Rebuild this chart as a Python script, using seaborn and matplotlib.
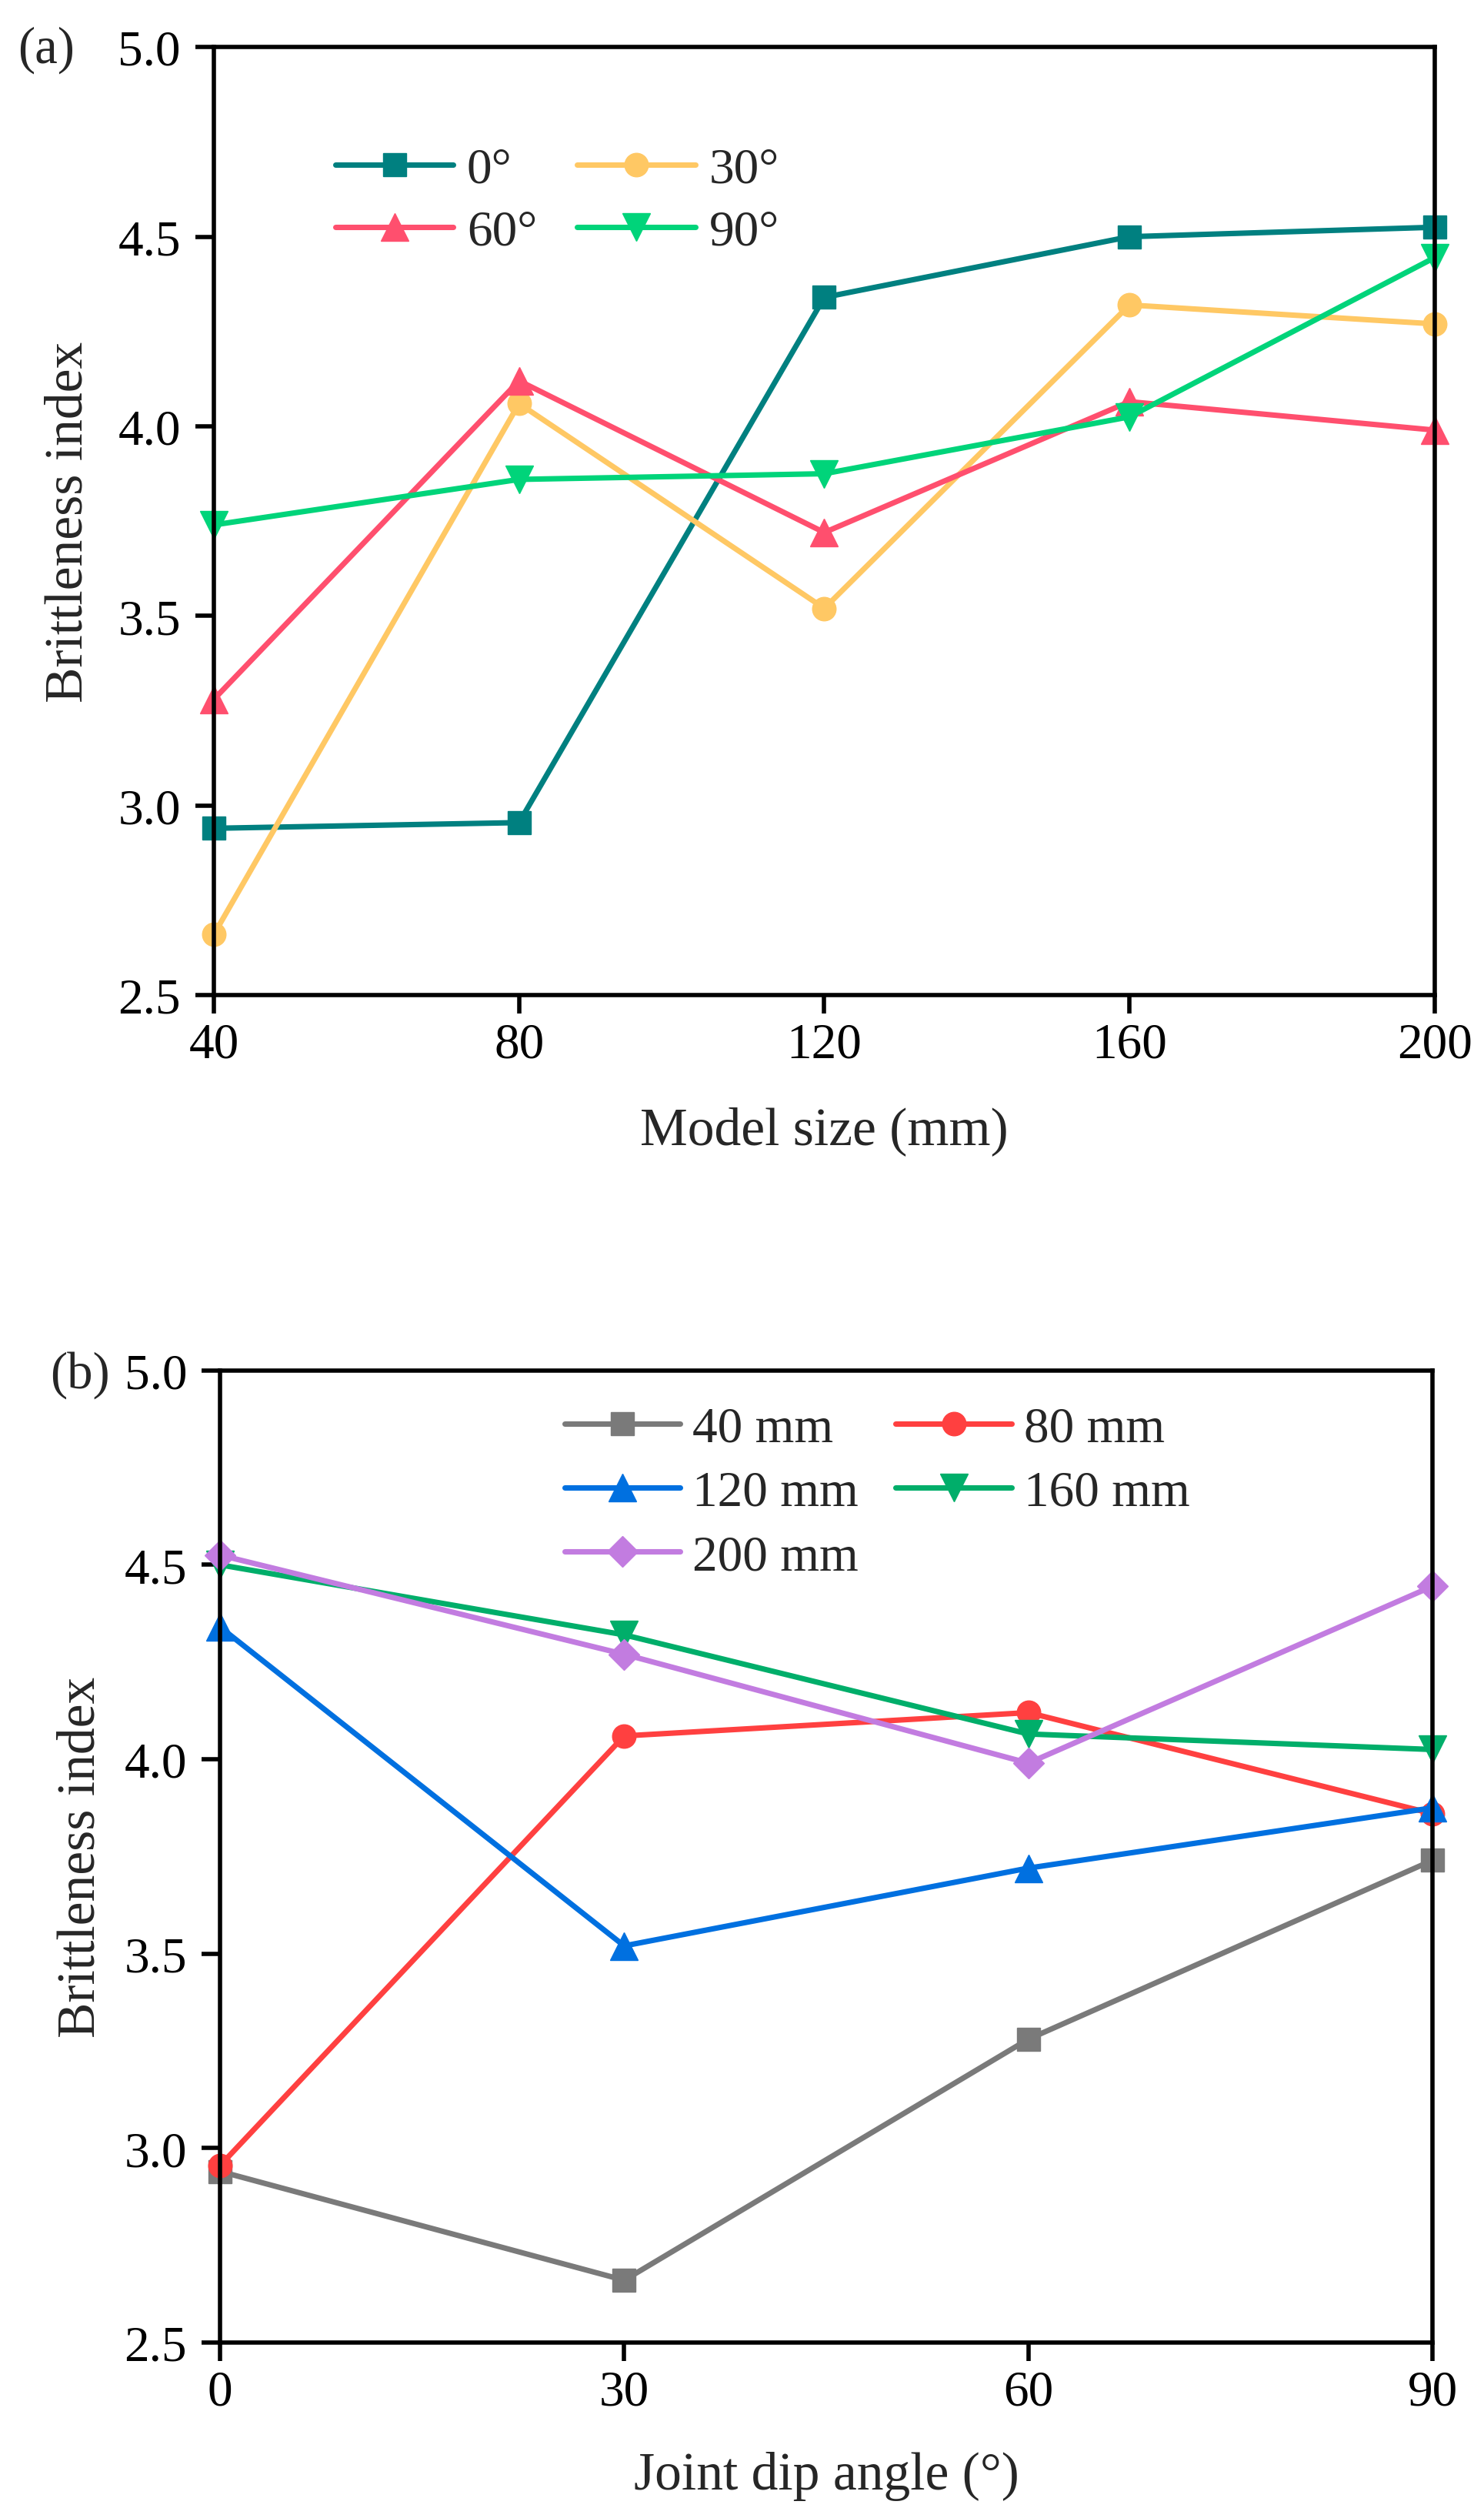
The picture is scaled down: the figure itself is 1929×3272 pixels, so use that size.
import matplotlib
matplotlib.use("Agg")
import matplotlib.pyplot as plt
import seaborn as sns

# model sizes (mm) and joint dip angles (deg)
model_sizes = [40, 80, 120, 160, 200]
dip_angles = [0, 30, 60, 90]

# brittleness index for each dip angle, over model size
bi_0 = [2.94, 2.955, 4.34, 4.50, 4.525]
bi_30 = [2.66, 4.06, 3.52, 4.32, 4.27]
bi_60 = [3.28, 4.12, 3.72, 4.065, 3.99]
bi_90 = [3.74, 3.86, 3.875, 4.025, 4.445]

angle_labels = ["0°", "30°", "60°", "90°"]
size_labels = ["40 mm", "80 mm", "120 mm", "160 mm", "200 mm"]

sns.set_theme(style="ticks")
plt.rcParams["font.family"] = ["Liberation Serif", "DejaVu Serif"]
plt.rcParams["axes.linewidth"] = 4
plt.rcParams["xtick.major.width"] = 4
plt.rcParams["ytick.major.width"] = 4
plt.rcParams["xtick.major.size"] = 17
plt.rcParams["ytick.major.size"] = 17
plt.rcParams["xtick.major.pad"] = 8
plt.rcParams["ytick.major.pad"] = 14
plt.rcParams["xtick.labelsize"] = 47
plt.rcParams["ytick.labelsize"] = 47
plt.rcParams["axes.edgecolor"] = "black"
plt.rcParams["xtick.color"] = "black"
plt.rcParams["ytick.color"] = "black"

fig = plt.figure(figsize=(19.29, 32.73), dpi=100)
ax_a = fig.add_axes([0.1441, 0.6046, 0.8227, 0.3764])
ax_b = fig.add_axes([0.1483, 0.0697, 0.8170, 0.3859])

# panel (a): brittleness vs model size
series_a = [bi_0, bi_30, bi_60, bi_90]
colors_a = ["#008080", "#FFC864", "#FF4F6E", "#00D47A"]
markers_a = ["s", "o", "^", "v"]
msizes_a = [21, 22, 26, 26]
for vals, lab, c, m, ms in zip(series_a, angle_labels, colors_a, markers_a, msizes_a):
    sns.lineplot(x=model_sizes, y=vals, ax=ax_a, color=c, marker=m, markersize=ms,
                 markeredgecolor=c, markeredgewidth=1, linewidth=5.1, label=lab,
                 clip_on=False)

# panel (b): brittleness vs joint dip angle (same data, transposed)
series_b = [[s[i] for s in series_a] for i in range(len(model_sizes))]
colors_b = ["#7A7A7A", "#FF4040", "#0070E0", "#00AE6A", "#C27CE0"]
markers_b = ["s", "o", "^", "v", "D"]
msizes_b = [21, 22, 26, 26, 20]
for vals, lab, c, m, ms in zip(series_b, size_labels, colors_b, markers_b, msizes_b):
    sns.lineplot(x=dip_angles, y=vals, ax=ax_b, color=c, marker=m, markersize=ms,
                 markeredgecolor=c, markeredgewidth=1, linewidth=5.1, label=lab,
                 clip_on=False)

for ax in (ax_a, ax_b):
    ax.set_ylim(2.5, 5.0)
    ax.set_yticks([2.5, 3.0, 3.5, 4.0, 4.5, 5.0])
    for sp in ax.spines.values():
        sp.set_visible(True)
        sp.set_linewidth(4)
        sp.set_color("black")

ax_a.set_ylabel("Brittleness index", fontsize=50, labelpad=23)
ax_b.set_ylabel("Brittleness index", fontsize=50, labelpad=17)

ax_a.set_xlim(40, 200)
ax_a.set_xticks(model_sizes)
ax_a.set_xlabel("Model size (mm)", fontsize=50, labelpad=36)
ax_b.set_xlim(0, 90)
ax_b.set_xticks(dip_angles)
ax_b.set_xlabel("Joint dip angle (°)", fontsize=50, labelpad=34)

# legends, row-major order emulated for matplotlib's column-major fill
h, l = ax_a.get_legend_handles_labels()
order = [0, 2, 1, 3]
ax_a.legend([h[i] for i in order], [l[i] for i in order], ncol=2, frameon=False,
            fontsize=47, loc="upper left", bbox_to_anchor=(0.226, 0.9414),
            bbox_transform=fig.transFigure, borderpad=0, borderaxespad=0,
            handlelength=2.35, handletextpad=0.27, columnspacing=0.8,
            labelspacing=0.33)

h, l = ax_b.get_legend_handles_labels()
order = [0, 2, 4, 1, 3]
ax_b.legend([h[i] for i in order], [l[i] for i in order], ncol=2, frameon=False,
            fontsize=47, loc="upper left", bbox_to_anchor=(0.3805, 0.4415),
            bbox_transform=fig.transFigure, borderpad=0, borderaxespad=0,
            handlelength=2.3, handletextpad=0.25, columnspacing=0.74,
            labelspacing=0.36)

fig.text(0.0119, 0.975, "(a)", fontsize=48, va="baseline", ha="left")
fig.text(0.0337, 0.4491, "(b)", fontsize=48, va="baseline", ha="left")

fig.savefig("out.png", dpi=100)
